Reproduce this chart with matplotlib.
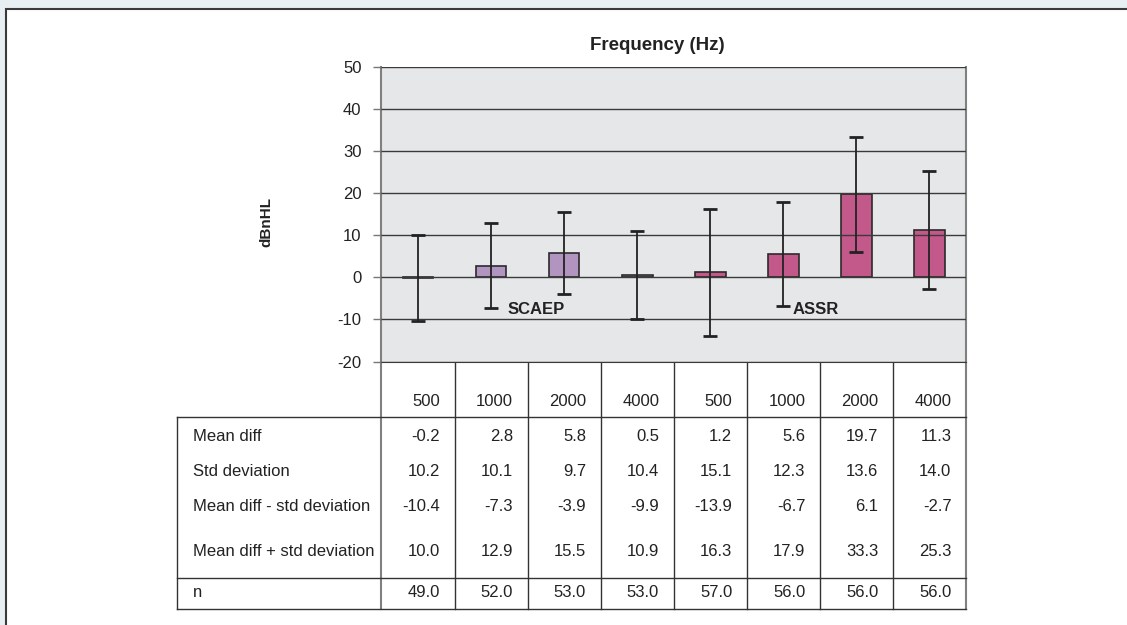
import matplotlib
matplotlib.use("Agg")
import matplotlib.pyplot as plt
import matplotlib.transforms as mtransforms
from matplotlib.patches import Rectangle
import numpy as np

plt.rcParams['font.family'] = ['Liberation Sans', 'DejaVu Sans']
plt.rcParams['axes.unicode_minus'] = False

freqs = ['500', '1000', '2000', '4000', '500', '1000', '2000', '4000']
groups = ['SCAEP'] * 4 + ['ASSR'] * 4
mean_diff = [-0.2, 2.8, 5.8, 0.5, 1.2, 5.6, 19.7, 11.3]
std_dev = [10.2, 10.1, 9.7, 10.4, 15.1, 12.3, 13.6, 14.0]
lower = [-10.4, -7.3, -3.9, -9.9, -13.9, -6.7, 6.1, -2.7]
upper = [10.0, 12.9, 15.5, 10.9, 16.3, 17.9, 33.3, 25.3]
n_obs = [49.0, 52.0, 53.0, 53.0, 57.0, 56.0, 56.0, 56.0]
row_labels = ['Mean diff', 'Std deviation', 'Mean diff - std deviation',
              'Mean diff + std deviation', 'n']
group_colors = {'SCAEP': '#b294c1', 'ASSR': '#c3588b'}
txt = '#222222'

W, H = 1127, 625
fig = plt.figure(figsize=(W / 100, H / 100), dpi=100)
fig.patch.set_facecolor('#e8eff3')

# overlay in pixel coords for the frame and the table
px = fig.add_axes([0, 0, 1, 1])
px.set_xlim(0, W)
px.set_ylim(H, 0)
px.axis('off')
px.add_patch(Rectangle((6, 9), W, H, facecolor='white', edgecolor='#3a3a3a', lw=1.5))

ax = fig.add_axes([381.5 / W, 1 - 361.5 / H, (966 - 381.5) / W, (361.5 - 67) / H])
x = np.arange(len(freqs))
m = np.array(mean_diff)
colors = [group_colors[g] for g in groups]
ax.bar(x, m, width=0.42, color=colors, edgecolor='#2b2b2b', linewidth=1.2, zorder=2)
yerr = [m - np.array(lower), np.array(upper) - m]
ax.errorbar(x, m, yerr=yerr, fmt='none', ecolor='#222222', elinewidth=1.3,
            capsize=5, capthick=2, zorder=4)

ax.set_xlim(-0.5, 7.5)
ax.set_ylim(-20, 50)
ax.set_yticks(range(-20, 51, 10))
ax.set_xticks([])
ax.set_facecolor('#e6e7e9')
ax.set_axisbelow(False)
ax.yaxis.grid(True, color='#3a3a3a', lw=1)
ax.tick_params(axis='y', direction='out', length=5.8, color='#777777', width=1,
               labelsize=12, pad=8.6, labelcolor=txt)
ax.spines['top'].set_visible(False)
ax.spines['bottom'].set_color('#3a3a3a')
ax.spines['left'].set_color('#808080')
ax.spines['left'].set_linewidth(1.5)
ax.spines['right'].set_color('#808080')
ax.spines['right'].set_linewidth(1.5)

ax.text(1.22, -7.6, 'SCAEP', fontsize=12, fontweight='bold', color=txt, ha='left', va='center')
ax.text(5.13, -7.6, 'ASSR', fontsize=12, fontweight='bold', color=txt, ha='left', va='center')

px.text(657, 45, 'Frequency (Hz)', fontsize=13.5, fontweight='bold', color=txt,
        ha='center', va='center')
px.text(266, 222, 'dBnHL', fontsize=11, fontweight='bold', color=txt,
        rotation=90, ha='center', va='center')

# table: x follows the bar axis, y in pixels
tr = mtransforms.blended_transform_factory(ax.transData, px.transData)
tab_top, tab_bot = 361.5, 609.3
for i in range(len(freqs) + 1):
    lc = '#808080' if i in (0, len(freqs)) else '#333333'
    lw = 1.5 if i in (0, len(freqs)) else 1
    px.plot([i - 0.5, i - 0.5], [tab_top, tab_bot], color=lc, lw=lw, transform=tr)
for yy in [416.7, 578.3, tab_bot]:
    px.plot([177, 966], [yy, yy], color='#333333', lw=1)
px.plot([177, 177], [416.7, tab_bot], color='#333333', lw=1)

rows = [mean_diff, std_dev, lower, upper, n_obs]
row_y = [436.7, 471.7, 506.7, 551.7, 592.5]
for i, f in enumerate(freqs):
    px.text(i + 0.3, 402, f, fontsize=12, color=txt, ha='right', va='center', transform=tr)
for label, vals, yy in zip(row_labels, rows, row_y):
    px.text(192.7, yy, label, fontsize=12, color=txt, ha='left', va='center')
    for i, v in enumerate(vals):
        px.text(i + 0.3, yy, f'{v:.1f}', fontsize=12, color=txt, ha='right',
                va='center', transform=tr)

fig.savefig('out.png', dpi=100)
